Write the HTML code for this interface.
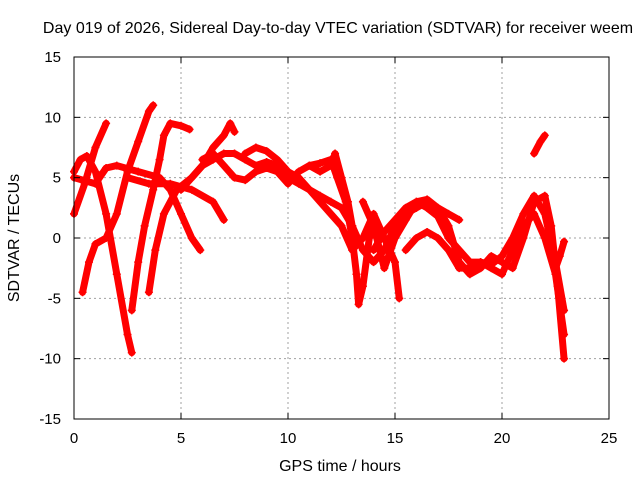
<!DOCTYPE html>
<html><head><meta charset="utf-8"><style>
body{margin:0;background:#fff;}
svg{display:block;font-family:"Liberation Sans",sans-serif;}
</style></head><body>
<svg id="chart" width="640" height="480" xmlns="http://www.w3.org/2000/svg">
<rect width="640" height="480" fill="#fff"/>
<text x="338" y="33" font-size="16" text-anchor="middle">Day 019 of 2026, Sidereal Day-to-day VTEC variation (SDTVAR) for receiver weem</text>
<text x="340" y="471" font-size="16" text-anchor="middle">GPS time / hours</text>
<text transform="translate(19,238) rotate(-90)" font-size="16" text-anchor="middle">SDTVAR / TECUs</text>
<g id="grid"></g>
<g id="series"></g>
<rect x="74" y="57" width="535" height="362" fill="none" stroke="#000"/>
<g id="ticks"></g>
</svg>
<script>
const xTicks=[0,5,10,15,20,25];
const yTicks=[-15,-10,-5,0,5,10,15];
const t1=[[0,2],[0.5,4.5],[1,7.5],[1.5,9.5]];
const t2=[[0,5.5],[0.3,6.5],[0.6,6.8],[1,5.5],[1.5,2],[2,-3],[2.5,-8],[2.7,-9.5]];
const t3=[[0.4,-4.5],[0.7,-2],[1,-0.5],[1.5,0],[2,2],[2.5,5.5],[3,8],[3.5,10.5],[3.7,11]];
const t4=[[2.7,-6],[3,-2],[3.3,1],[3.7,4],[4,6.5],[4.2,8.5],[4.5,9.5],[5,9.3],[5.4,9]];
const t5=[[3.5,-4.5],[3.8,-1],[4.2,2],[4.8,4],[5.5,5],[6,6],[6.5,7.5],[7,8.5],[7.3,9.5],[7.5,8.8]];
const t6=[[0,5],[1,4.5],[1.5,5.8],[2,6],[3,5.5],[4,5],[4.5,4],[5,2],[5.5,0],[5.9,-1]];
const t7=[[2.5,5],[3.5,4.5],[4.5,4.5],[5.5,4],[6.5,3],[7,1.5]];
const t8=[[5,4],[5.5,5],[6,6],[6.5,6.5],[7,7],[7.5,7],[8,6.5],[8.5,6],[9,6.3],[9.5,6],[10,5],[10.5,4.5],[11,4],[11.5,3.5],[12,3],[12.5,2.5],[13,1]];
const t9=[[6,6.5],[6.5,7],[7,6],[7.5,5],[8,4.8],[8.5,5.5],[9,5.8],[9.5,5.5],[10,4.5],[10.5,5.5],[11,6],[11.5,6.2],[12,6.5],[12.3,5],[12.7,3],[13,0],[13.2,-3],[13.3,-5.5],[13.5,-4],[13.8,0],[14,1]];
const t10=[[8,7],[8.5,7.5],[9,7.2],[9.5,6.5],[10,5.5],[10.5,5],[11,4],[11.5,3],[12,2],[12.5,1],[13,-1],[13.5,0],[14,2],[14.5,0],[15,-2],[15.2,-5]];
const t11=[[11,6],[11.5,5.5],[12,6],[12.2,7],[12.5,5],[12.8,3],[13,1],[13.5,-1],[14,-2],[14.5,-1],[15,1],[15.5,2],[16,2.5],[16.5,3],[17,2.5],[17.5,2],[18,1.5]];
const t12=[[13.5,3],[14,1],[14.5,-2.5],[15,0],[15.5,1.5],[16,3],[16.5,3.2],[17,2.5],[17.5,1],[18,-2],[18.5,-3],[19,-2.5],[19.5,-1.5],[20,-2],[20.5,-2.5],[21,0],[21.5,3],[22,3.5],[22.3,1],[22.6,-4],[22.9,-10]];
const t13=[[14,-1],[14.5,0.5],[15,1.5],[15.5,2.5],[16,3],[16.5,2.5],[17,1.8],[17.5,0],[18,-1],[18.5,-2],[19,-2],[19.5,-2.5],[20,-3],[20.5,-1],[21,1],[21.5,2],[22,0],[22.5,-3],[22.9,-8]];
const t14=[[15.5,-1],[16,0],[16.5,0.5],[17,0],[17.5,-1],[18,-2.5],[18.5,-2.5],[19,-2],[19.5,-2.2],[20,-1.5],[20.5,0],[21,2],[21.5,3.5],[22,2],[22.5,-2],[22.9,-6]];
const t15=[[21.5,7],[21.8,8],[22,8.5]];
const t16=[[22.5,-2.5],[22.7,-1.5],[22.9,-0.3]];
const tracks=[t1,t2,t3,t4,t5,t6,t7,t8,t9,t10,t11,t12,t13,t14,t15,t16];
const X=v=>74+v*535/25, Y=v=>238-v*362/30;
const NS="http://www.w3.org/2000/svg";
const mk=(tag,attrs,parent)=>{const e=document.createElementNS(NS,tag);for(const k in attrs)e.setAttribute(k,attrs[k]);parent.appendChild(e);return e;};
const grid=document.getElementById('grid'),ticks=document.getElementById('ticks'),ser=document.getElementById('series');
xTicks.forEach(t=>{
 if(t>0&&t<25){const l=mk('line',{x1:X(t),x2:X(t),y1:57,y2:419,stroke:'#a0a0a0','stroke-dasharray':'2,3'},grid);
 
 }
 const tx=mk('text',{x:X(t),y:443,'font-size':15,'text-anchor':'middle'},ticks);tx.textContent=t;
 
 
 mk('line',{x1:X(t),x2:X(t),y1:419,y2:413,stroke:'#000'},ticks);
 mk('line',{x1:X(t),x2:X(t),y1:57,y2:63,stroke:'#000'},ticks);
});
yTicks.forEach(t=>{
 if(t>-15&&t<15){const l=mk('line',{x1:74,x2:609,y1:Y(t),y2:Y(t),stroke:'#a0a0a0','stroke-dasharray':'2,3'},grid);
 
 }
 const tx=mk('text',{x:61,y:Y(t)+5,'font-size':15,'text-anchor':'end'},ticks);tx.textContent=t;
 
 
 mk('line',{x1:74,x2:80,y1:Y(t),y2:Y(t),stroke:'#000'},ticks);
 mk('line',{x1:609,x2:603,y1:Y(t),y2:Y(t),stroke:'#000'},ticks);
});
tracks.forEach((tr,i)=>{
 const p=mk('polyline',{points:tr.map(d=>X(d[0])+','+Y(d[1])).join(' '),fill:'none',stroke:'#f00','stroke-width':7,'stroke-linejoin':'round','stroke-linecap':'round'},ser);
 
 
 tr.forEach(d=>{const m=mk('path',{d:`M${X(d[0])-4},${Y(d[1])}h8M${X(d[0])},${Y(d[1])-4}v8`,stroke:'#f00','stroke-width':1.5},ser);
 
 });
});
</script>
</body></html>
